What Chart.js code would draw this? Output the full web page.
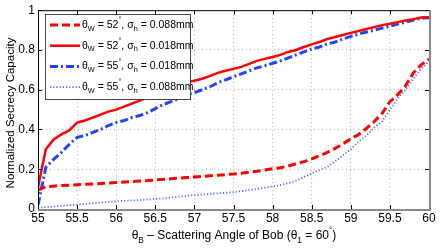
<!DOCTYPE html>
<html>
<head>
<meta charset="utf-8">
<script src="https://cdn.jsdelivr.net/npm/chart.js@4.4.1/dist/chart.umd.min.js"></script>
<style>
  html, body { margin: 0; padding: 0; background: #fff; }
</style>
</head>
<body>
<canvas id="chart" width="440" height="249"></canvas>
<script>
// scattering angle of Bob (deg)
const angles = [55, 55.1, 55.2, 55.3, 55.4, 55.5, 55.6, 55.7, 55.8, 55.9,
    56, 56.1, 56.2, 56.3, 56.4, 56.5, 56.6, 56.7, 56.8, 56.9,
    57, 57.1, 57.2, 57.3, 57.4, 57.5, 57.6, 57.7, 57.8, 57.9,
    58, 58.1, 58.2, 58.3, 58.4, 58.5, 58.6, 58.7, 58.8, 58.9,
    59, 59.1, 59.2, 59.3, 59.4, 59.5, 59.6, 59.7, 59.8, 59.9, 60];

// thetaW = 52, sigma = 0.088mm
const w52s088 = [0.095, 0.112, 0.115, 0.118, 0.12, 0.122, 0.124, 0.126, 0.128, 0.131,
    0.133, 0.136, 0.138, 0.141, 0.143, 0.146, 0.149, 0.152, 0.155, 0.158,
    0.161, 0.164, 0.167, 0.17, 0.173, 0.176, 0.18, 0.185, 0.19, 0.196,
    0.202, 0.208, 0.216, 0.228, 0.238, 0.252, 0.268, 0.285, 0.305, 0.328,
    0.353, 0.375, 0.405, 0.44, 0.48, 0.54, 0.575, 0.62, 0.685, 0.725, 0.755];

// thetaW = 52, sigma = 0.018mm
const w52s018 = [0.11, 0.3, 0.35, 0.375, 0.395, 0.435, 0.445, 0.46, 0.475, 0.49,
    0.5, 0.515, 0.53, 0.545, 0.56, 0.58, 0.6, 0.61, 0.625, 0.64,
    0.645, 0.655, 0.67, 0.685, 0.695, 0.705, 0.715, 0.73, 0.745, 0.755,
    0.765, 0.775, 0.79, 0.8, 0.815, 0.828, 0.84, 0.855, 0.865, 0.875,
    0.886, 0.895, 0.905, 0.915, 0.925, 0.932, 0.94, 0.948, 0.955, 0.963, 0.965];

// thetaW = 55, sigma = 0.018mm
const w55s018 = [0.02, 0.21, 0.25, 0.285, 0.325, 0.36, 0.37, 0.385, 0.4, 0.42,
    0.435, 0.445, 0.46, 0.47, 0.485, 0.505, 0.525, 0.54, 0.555, 0.575,
    0.585, 0.6, 0.615, 0.635, 0.65, 0.665, 0.68, 0.695, 0.71, 0.72,
    0.733, 0.745, 0.76, 0.775, 0.79, 0.805, 0.815, 0.83, 0.84, 0.855,
    0.868, 0.88, 0.89, 0.9, 0.91, 0.92, 0.93, 0.94, 0.95, 0.96, 0.962];

// thetaW = 55, sigma = 0.088mm
const w55s088 = [0.005, 0.01, 0.013, 0.016, 0.019, 0.022, 0.025, 0.029, 0.032, 0.036,
    0.039, 0.041, 0.043, 0.045, 0.048, 0.05, 0.053, 0.057, 0.062, 0.067,
    0.07, 0.073, 0.076, 0.079, 0.082, 0.085, 0.09, 0.095, 0.101, 0.107,
    0.113, 0.12, 0.13, 0.142, 0.16, 0.18, 0.195, 0.212, 0.24, 0.27,
    0.3, 0.34, 0.37, 0.41, 0.44, 0.5, 0.555, 0.6, 0.655, 0.705, 0.742];

const xTicks = [55, 55.5, 56, 56.5, 57, 57.5, 58, 58.5, 59, 59.5, 60];
const yTicks = [0, 0.2, 0.4, 0.6, 0.8, 1];

// legend text pieces: [thetaW, sigma]
const legendLabels = [["52", "0.088mm"], ["52", "0.018mm"], ["55", "0.018mm"], ["55", "0.088mm"]];

const FONT = "'Liberation Sans', Arial, sans-serif";

function pts(ys) {
    return angles.map((a, i) => ({ x: a, y: ys[i] }));
}

const styles = [
    { color: "#ff0000", width: 3, dash: [8, 4] },
    { color: "#ff0000", width: 2.5, dash: [] },
    { color: "#2244ff", width: 3, dash: [8, 3, 2, 3] },
    { color: "#4f6fff", width: 1.8, dash: [1.2, 2] }
];
const series = [w52s088, w52s018, w55s018, w55s088];

// draws text with sub / superscripts, parts = [[text, mode], ...]
function richText(ctx, parts, x, y, size) {
    let cx = x;
    parts.forEach(p => {
        const s = p[1] ? size * 0.7 : size;
        ctx.font = s + "px " + FONT;
        let dy = 0;
        if (p[1] === "sub") dy = size * 0.35;
        if (p[1] === "sup") dy = -size * 0.45;
        ctx.fillText(p[0], cx, y + dy);
        cx += ctx.measureText(p[0]).width;
    });
    return cx - x;
}
function richWidth(ctx, parts, size) {
    let w = 0;
    parts.forEach(p => {
        ctx.font = (p[1] ? size * 0.7 : size) + "px " + FONT;
        w += ctx.measureText(p[0]).width;
    });
    return w;
}

const decor = {
    id: "decor",
    afterDraw(chart) {
        const ctx = chart.ctx;
        const a = chart.chartArea;
        const xs = chart.scales.x, ys = chart.scales.y;
        ctx.save();

        // inward ticks
        ctx.strokeStyle = "#000";
        ctx.lineWidth = 1;
        xTicks.forEach(t => {
            const px = Math.round(xs.getPixelForValue(t)) + 0.5;
            ctx.beginPath();
            ctx.moveTo(px, a.bottom); ctx.lineTo(px, a.bottom - 4);
            ctx.moveTo(px, a.top); ctx.lineTo(px, a.top + 4);
            ctx.stroke();
        });
        yTicks.forEach(t => {
            const py = Math.round(ys.getPixelForValue(t)) + 0.5;
            ctx.beginPath();
            ctx.moveTo(a.left, py); ctx.lineTo(a.left + 4, py);
            ctx.moveTo(a.right, py); ctx.lineTo(a.right - 4, py);
            ctx.stroke();
        });

        // box
        ctx.strokeStyle = "#000";
        ctx.beginPath();
        ctx.moveTo(a.left + 0.5, a.bottom); ctx.lineTo(a.left + 0.5, a.top + 0.5);
        ctx.lineTo(a.right, a.top + 0.5);
        ctx.stroke();
        ctx.strokeStyle = "#8a8a8a";
        ctx.lineWidth = 2;
        ctx.beginPath();
        ctx.moveTo(a.left, a.bottom + 1); ctx.lineTo(a.right + 1, a.bottom + 1);
        ctx.lineTo(a.right + 1, a.top);
        ctx.stroke();

        // legend
        const lx = 45, ly = 14, lw = 145, lh = 85;
        ctx.fillStyle = "#fff";
        ctx.fillRect(lx, ly, lw, lh);
        ctx.strokeStyle = "#444";
        ctx.lineWidth = 1;
        ctx.strokeRect(lx + 0.5, ly + 0.5, lw, lh);
        ctx.textBaseline = "middle";
        ctx.textAlign = "left";
        legendLabels.forEach((lab, i) => {
            const yy = 25 + i * 20.7;
            const st = styles[i];
            ctx.strokeStyle = st.color;
            ctx.lineWidth = st.width;
            ctx.setLineDash(st.dash);
            ctx.beginPath();
            ctx.moveTo(50, yy); ctx.lineTo(80, yy);
            ctx.stroke();
            ctx.setLineDash([]);
            ctx.fillStyle = "#000";
            richText(ctx, [["\u03b8", null], ["W", "sub"], [" = " + lab[0], null], ["\u00b0", "sup"],
                [", \u03c3", null], ["h", "sub"], [" = " + lab[1], null]], 82, yy, 10.5);
        });

        // x title
        const xt = [["\u03b8", null], ["B", "sub"], [" \u2013 Scattering Angle of Bob (\u03b8", null],
            ["1", "sub"], [" = 60", null], ["\u00b0", "sup"], [")", null]];
        const w = richWidth(ctx, xt, 12);
        ctx.fillStyle = "#000";
        richText(ctx, xt, 234 - w / 2, 236, 12);

        // y title
        ctx.translate(11, 113);
        ctx.rotate(-Math.PI / 2);
        ctx.textAlign = "center";
        ctx.font = "11.5px " + FONT;
        ctx.fillText("Normalized Secrecy Capacity", 0, 0);
        ctx.restore();
    }
};

new Chart(document.getElementById("chart"), {
    type: "line",
    data: {
        datasets: series.map((s, i) => ({
            data: pts(s),
            borderColor: styles[i].color,
            borderWidth: styles[i].width,
            borderDash: styles[i].dash,
            pointRadius: 0,
            fill: false,
            tension: 0
        }))
    },
    options: {
        responsive: false,
        animation: false,
        layout: { padding: { top: 8, right: 11, left: 0, bottom: 0 } },
        plugins: { legend: { display: false }, tooltip: { enabled: false } },
        scales: {
            x: {
                type: "linear",
                min: 55, max: 60,
                afterBuildTicks: s => { s.ticks = xTicks.map(v => ({ value: v })); },
                afterFit: s => { s.height = 40; },
                ticks: { color: "#000", font: { family: FONT, size: 12 }, padding: 2, maxRotation: 0,
                    callback: v => String(v) },
                grid: { color: "#b0b0b0", drawTicks: false },
                border: { display: false, dash: [1, 3] }
            },
            y: {
                min: 0, max: 1,
                afterBuildTicks: s => { s.ticks = yTicks.map(v => ({ value: v })); },
                afterFit: s => { s.width = 38; },
                ticks: { color: "#000", font: { family: FONT, size: 12 }, padding: 3,
                    callback: v => String(v) },
                grid: { color: "#b0b0b0", drawTicks: false },
                border: { display: false, dash: [1, 3] }
            }
        }
    },
    plugins: [decor]
});
</script>
</body>
</html>
